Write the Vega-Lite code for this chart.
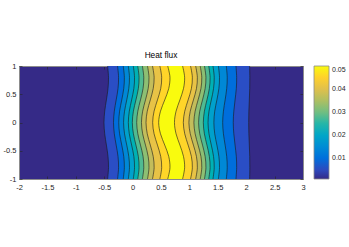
{
"$schema": "https://vega.github.io/schema/vega-lite/v6.json",
"width": 284,
"height": 113,
"autosize": {"type": "none"},
"padding": {"left": 19, "top": 66, "right": 46, "bottom": 68},
"background": "white",
"config": {
  "view": {"fill": "#352a87", "stroke": null},
  "font": "Liberation Sans",
  "axis": {"grid": false, "title": null, "labelFontSize": 7.5, "labelColor": "#262626", "tickColor": "#262626", "tickWidth": 0.6, "domainColor": "#8c8c8c", "domainWidth": 1, "zindex": 1, "labelFlush": false, "labelOverlap": false, "labelFont": "Liberation Sans"}
},
"title": {"text": "Heat flux", "fontSize": 8.3, "fontWeight": "normal", "font": "Liberation Sans", "color": "#000000", "offset": 3},
"data": {"values": [
{"k":1,"v":0.00545,"y":1,"l":-0.44,"r":2.06},{"k":1,"v":0.00545,"y":0.8,"l":-0.424,"r":2.064},{"k":1,"v":0.00545,"y":0.6,"l":-0.433,"r":2.062},{"k":1,"v":0.00545,"y":0.4,"l":-0.461,"r":2.055},{"k":1,"v":0.00545,"y":0.2,"l":-0.491,"r":2.047},{"k":1,"v":0.00545,"y":0,"l":-0.504,"r":2.044},{"k":1,"v":0.00545,"y":-0.2,"l":-0.491,"r":2.047},{"k":1,"v":0.00545,"y":-0.4,"l":-0.461,"r":2.055},{"k":1,"v":0.00545,"y":-0.6,"l":-0.433,"r":2.062},{"k":1,"v":0.00545,"y":-0.8,"l":-0.424,"r":2.064},{"k":1,"v":0.00545,"y":-1,"l":-0.44,"r":2.06},
{"k":2,"v":0.0099,"y":1,"l":-0.265,"r":1.82},{"k":2,"v":0.0099,"y":0.8,"l":-0.247,"r":1.832},{"k":2,"v":0.0099,"y":0.6,"l":-0.257,"r":1.826},{"k":2,"v":0.0099,"y":0.4,"l":-0.289,"r":1.804},{"k":2,"v":0.0099,"y":0.2,"l":-0.322,"r":1.782},{"k":2,"v":0.0099,"y":0,"l":-0.336,"r":1.772},{"k":2,"v":0.0099,"y":-0.2,"l":-0.322,"r":1.782},{"k":2,"v":0.0099,"y":-0.4,"l":-0.289,"r":1.804},{"k":2,"v":0.0099,"y":-0.6,"l":-0.257,"r":1.826},{"k":2,"v":0.0099,"y":-0.8,"l":-0.247,"r":1.832},{"k":2,"v":0.0099,"y":-1,"l":-0.265,"r":1.82},
{"k":3,"v":0.01436,"y":1,"l":-0.165,"r":1.65},{"k":3,"v":0.01436,"y":0.8,"l":-0.145,"r":1.666},{"k":3,"v":0.01436,"y":0.6,"l":-0.156,"r":1.657},{"k":3,"v":0.01436,"y":0.4,"l":-0.191,"r":1.629},{"k":3,"v":0.01436,"y":0.2,"l":-0.229,"r":1.599},{"k":3,"v":0.01436,"y":0,"l":-0.244,"r":1.586},{"k":3,"v":0.01436,"y":-0.2,"l":-0.229,"r":1.599},{"k":3,"v":0.01436,"y":-0.4,"l":-0.191,"r":1.629},{"k":3,"v":0.01436,"y":-0.6,"l":-0.156,"r":1.657},{"k":3,"v":0.01436,"y":-0.8,"l":-0.145,"r":1.666},{"k":3,"v":0.01436,"y":-1,"l":-0.165,"r":1.65},
{"k":4,"v":0.01882,"y":1,"l":-0.076,"r":1.51},{"k":4,"v":0.01882,"y":0.8,"l":-0.055,"r":1.53},{"k":4,"v":0.01882,"y":0.6,"l":-0.067,"r":1.519},{"k":4,"v":0.01882,"y":0.4,"l":-0.103,"r":1.484},{"k":4,"v":0.01882,"y":0.2,"l":-0.142,"r":1.446},{"k":4,"v":0.01882,"y":0,"l":-0.159,"r":1.431},{"k":4,"v":0.01882,"y":-0.2,"l":-0.142,"r":1.446},{"k":4,"v":0.01882,"y":-0.4,"l":-0.103,"r":1.484},{"k":4,"v":0.01882,"y":-0.6,"l":-0.067,"r":1.519},{"k":4,"v":0.01882,"y":-0.8,"l":-0.055,"r":1.53},{"k":4,"v":0.01882,"y":-1,"l":-0.076,"r":1.51},
{"k":5,"v":0.02327,"y":1,"l":0.012,"r":1.415},{"k":5,"v":0.02327,"y":0.8,"l":0.034,"r":1.437},{"k":5,"v":0.02327,"y":0.6,"l":0.022,"r":1.425},{"k":5,"v":0.02327,"y":0.4,"l":-0.017,"r":1.386},{"k":5,"v":0.02327,"y":0.2,"l":-0.058,"r":1.345},{"k":5,"v":0.02327,"y":0,"l":-0.075,"r":1.328},{"k":5,"v":0.02327,"y":-0.2,"l":-0.058,"r":1.345},{"k":5,"v":0.02327,"y":-0.4,"l":-0.017,"r":1.386},{"k":5,"v":0.02327,"y":-0.6,"l":0.022,"r":1.425},{"k":5,"v":0.02327,"y":-0.8,"l":0.034,"r":1.437},{"k":5,"v":0.02327,"y":-1,"l":0.012,"r":1.415},
{"k":6,"v":0.02773,"y":1,"l":0.09,"r":1.34},{"k":6,"v":0.02773,"y":0.8,"l":0.114,"r":1.364},{"k":6,"v":0.02773,"y":0.6,"l":0.101,"r":1.351},{"k":6,"v":0.02773,"y":0.4,"l":0.059,"r":1.309},{"k":6,"v":0.02773,"y":0.2,"l":0.014,"r":1.264},{"k":6,"v":0.02773,"y":0,"l":-0.005,"r":1.245},{"k":6,"v":0.02773,"y":-0.2,"l":0.014,"r":1.264},{"k":6,"v":0.02773,"y":-0.4,"l":0.059,"r":1.309},{"k":6,"v":0.02773,"y":-0.6,"l":0.101,"r":1.351},{"k":6,"v":0.02773,"y":-0.8,"l":0.114,"r":1.364},{"k":6,"v":0.02773,"y":-1,"l":0.09,"r":1.34},
{"k":7,"v":0.03218,"y":1,"l":0.172,"r":1.265},{"k":7,"v":0.03218,"y":0.8,"l":0.197,"r":1.291},{"k":7,"v":0.03218,"y":0.6,"l":0.184,"r":1.277},{"k":7,"v":0.03218,"y":0.4,"l":0.139,"r":1.231},{"k":7,"v":0.03218,"y":0.2,"l":0.092,"r":1.182},{"k":7,"v":0.03218,"y":0,"l":0.072,"r":1.162},{"k":7,"v":0.03218,"y":-0.2,"l":0.092,"r":1.182},{"k":7,"v":0.03218,"y":-0.4,"l":0.139,"r":1.231},{"k":7,"v":0.03218,"y":-0.6,"l":0.184,"r":1.277},{"k":7,"v":0.03218,"y":-0.8,"l":0.197,"r":1.291},{"k":7,"v":0.03218,"y":-1,"l":0.172,"r":1.265},
{"k":8,"v":0.03664,"y":1,"l":0.262,"r":1.19},{"k":8,"v":0.03664,"y":0.8,"l":0.289,"r":1.218},{"k":8,"v":0.03664,"y":0.6,"l":0.274,"r":1.203},{"k":8,"v":0.03664,"y":0.4,"l":0.227,"r":1.153},{"k":8,"v":0.03664,"y":0.2,"l":0.177,"r":1.101},{"k":8,"v":0.03664,"y":0,"l":0.156,"r":1.079},{"k":8,"v":0.03664,"y":-0.2,"l":0.177,"r":1.101},{"k":8,"v":0.03664,"y":-0.4,"l":0.227,"r":1.153},{"k":8,"v":0.03664,"y":-0.6,"l":0.274,"r":1.203},{"k":8,"v":0.03664,"y":-0.8,"l":0.289,"r":1.218},{"k":8,"v":0.03664,"y":-1,"l":0.262,"r":1.19},
{"k":9,"v":0.04109,"y":1,"l":0.35,"r":1.11},{"k":9,"v":0.04109,"y":0.8,"l":0.379,"r":1.14},{"k":9,"v":0.04109,"y":0.6,"l":0.363,"r":1.124},{"k":9,"v":0.04109,"y":0.4,"l":0.312,"r":1.071},{"k":9,"v":0.04109,"y":0.2,"l":0.258,"r":1.015},{"k":9,"v":0.04109,"y":0,"l":0.236,"r":0.991},{"k":9,"v":0.04109,"y":-0.2,"l":0.258,"r":1.015},{"k":9,"v":0.04109,"y":-0.4,"l":0.312,"r":1.071},{"k":9,"v":0.04109,"y":-0.6,"l":0.363,"r":1.124},{"k":9,"v":0.04109,"y":-0.8,"l":0.379,"r":1.14},{"k":9,"v":0.04109,"y":-1,"l":0.35,"r":1.11},
{"k":10,"v":0.04555,"y":1,"l":0.48,"r":1.02},{"k":10,"v":0.04555,"y":0.8,"l":0.512,"r":1.052},{"k":10,"v":0.04555,"y":0.6,"l":0.495,"r":1.035},{"k":10,"v":0.04555,"y":0.4,"l":0.438,"r":0.978},{"k":10,"v":0.04555,"y":0.2,"l":0.378,"r":0.918},{"k":10,"v":0.04555,"y":0,"l":0.353,"r":0.893},{"k":10,"v":0.04555,"y":-0.2,"l":0.378,"r":0.918},{"k":10,"v":0.04555,"y":-0.4,"l":0.438,"r":0.978},{"k":10,"v":0.04555,"y":-0.6,"l":0.495,"r":1.035},{"k":10,"v":0.04555,"y":-0.8,"l":0.512,"r":1.052},{"k":10,"v":0.04555,"y":-1,"l":0.48,"r":1.02},
{"k":11,"v":0.05,"y":1,"l":0.618,"r":0.88},{"k":11,"v":0.05,"y":0.8,"l":0.658,"r":0.916},{"k":11,"v":0.05,"y":0.6,"l":0.636,"r":0.896},{"k":11,"v":0.05,"y":0.4,"l":0.566,"r":0.833},{"k":11,"v":0.05,"y":0.2,"l":0.491,"r":0.765},{"k":11,"v":0.05,"y":0,"l":0.459,"r":0.737},{"k":11,"v":0.05,"y":-0.2,"l":0.491,"r":0.765},{"k":11,"v":0.05,"y":-0.4,"l":0.566,"r":0.833},{"k":11,"v":0.05,"y":-0.6,"l":0.636,"r":0.896},{"k":11,"v":0.05,"y":-0.8,"l":0.658,"r":0.916},{"k":11,"v":0.05,"y":-1,"l":0.618,"r":0.88}
]},
"layer": [
  {
    "mark": {"type": "area", "orient": "horizontal", "interpolate": "catmull-rom"},
    "encoding": {
      "y": {"field": "y", "type": "quantitative", "scale": {"domain": [-1, 1], "nice": false, "zero": false},
            "axis": {"orient": "left", "values": [-1, -0.5, 0, 0.5, 1], "labelExpr": "toString(datum.value)", "tickSize": -3, "labelPadding": 6}},
      "x": {"field": "l", "type": "quantitative", "scale": {"domain": [-2, 3], "nice": false, "zero": false},
            "axis": {"orient": "bottom", "values": [-2, -1.5, -1, -0.5, 0, 0.5, 1, 1.5, 2, 2.5, 3], "labelExpr": "toString(datum.value)", "tickSize": -3, "labelPadding": 7}},
      "x2": {"field": "r"},
      "detail": {"field": "k", "type": "nominal"},
      "color": {"field": "v", "type": "quantitative",
                "scale": {"domain": [0.001, 0.007125, 0.01325, 0.019375, 0.0255, 0.031625, 0.03775, 0.043875, 0.05],
                          "range": ["#352a87", "#0f5cdd", "#1481d6", "#06a4ca", "#2eb7a4", "#87bf77", "#d1bb59", "#fec832", "#f9fb0e"]},
                "legend": {"type": "gradient", "title": null, "values": [0.01, 0.02, 0.03, 0.04, 0.05], "format": ".2f",
                           "gradientLength": 113, "gradientThickness": 15, "offset": 10, "padding": 0,
                           "labelFontSize": 7, "labelColor": "#262626", "labelOffset": 3, "labelFont": "Liberation Sans",
                           "gradientStrokeColor": "#8c8c8c", "gradientStrokeWidth": 0.8}}
    }
  },
  {
    "mark": {"type": "line", "interpolate": "catmull-rom", "color": "#1a1a1a", "strokeWidth": 0.6},
    "encoding": {
      "x": {"field": "l", "type": "quantitative", "axis": {"orient": "top", "values": [-2, -1.5, -1, -0.5, 0, 0.5, 1, 1.5, 2, 2.5, 3], "labels": false, "tickSize": -3}},
      "y": {"field": "y", "type": "quantitative", "axis": {"orient": "right", "values": [-1, -0.5, 0, 0.5, 1], "labels": false, "tickSize": -3}},
      "detail": {"field": "k", "type": "nominal"},
      "order": {"field": "y", "type": "quantitative"}
    }
  },
  {
    "mark": {"type": "line", "interpolate": "catmull-rom", "color": "#1a1a1a", "strokeWidth": 0.6},
    "encoding": {
      "x": {"field": "r", "type": "quantitative", "axis": null},
      "y": {"field": "y", "type": "quantitative", "axis": null},
      "detail": {"field": "k", "type": "nominal"},
      "order": {"field": "y", "type": "quantitative"}
    }
  }
],
"resolve": {"axis": {"x": "independent", "y": "independent"}}
}
